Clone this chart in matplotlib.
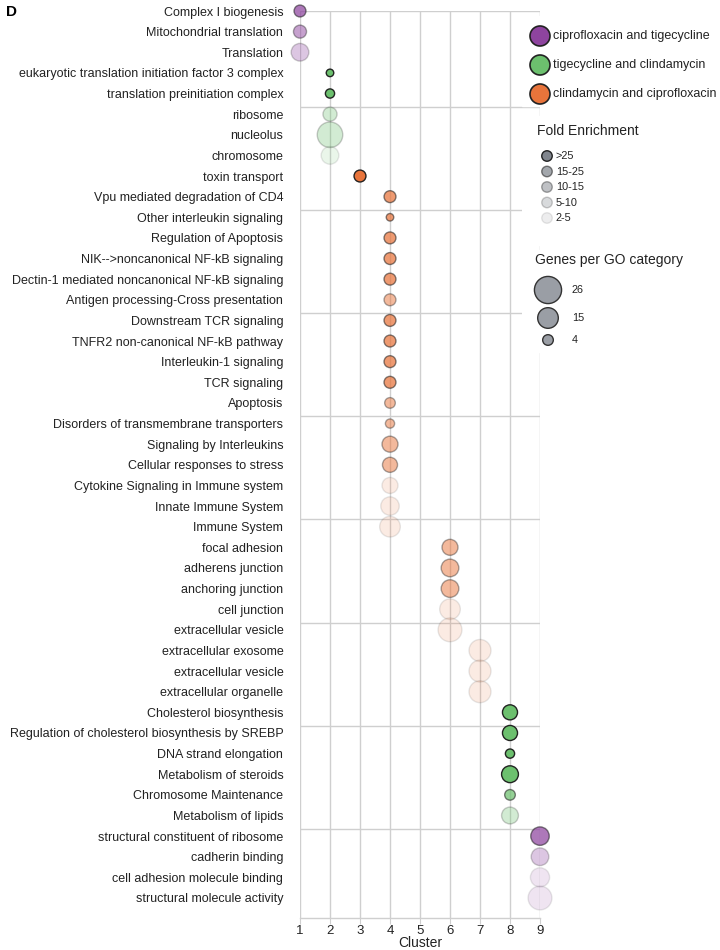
# -*- coding: utf-8 -*-
# go_cluster_bubbles.py

'''
Description:
    Panel D: enriched GO / pathway terms per cluster. Colour = drug pair,
    opacity = fold enrichment bin, bubble area = genes per GO category.
'''


#%% Import packages

import numpy as np
import matplotlib.pyplot as plt
from matplotlib.patches import Rectangle
from matplotlib.colors import to_rgba


#%% Data

terms = [
    'Complex I biogenesis', 'Mitochondrial translation', 'Translation',
    'eukaryotic translation initiation factor 3 complex',
    'translation preinitiation complex', 'ribosome', 'nucleolus',
    'chromosome', 'toxin transport', 'Vpu mediated degradation of CD4',
    'Other interleukin signaling', 'Regulation of Apoptosis',
    'NIK-->noncanonical NF-kB signaling',
    'Dectin-1 mediated noncanonical NF-kB signaling',
    'Antigen processing-Cross presentation', 'Downstream TCR signaling',
    'TNFR2 non-canonical NF-kB pathway', 'Interleukin-1 signaling',
    'TCR signaling', 'Apoptosis', 'Disorders of transmembrane transporters',
    'Signaling by Interleukins', 'Cellular responses to stress',
    'Cytokine Signaling in Immune system', 'Innate Immune System',
    'Immune System', 'focal adhesion', 'adherens junction',
    'anchoring junction', 'cell junction', 'extracellular vesicle',
    'extracellular exosome', 'extracellular vesicle',
    'extracellular organelle', 'Cholesterol biosynthesis',
    'Regulation of cholesterol biosynthesis by SREBP',
    'DNA strand elongation', 'Metabolism of steroids',
    'Chromosome Maintenance', 'Metabolism of lipids',
    'structural constituent of ribosome', 'cadherin binding',
    'cell adhesion molecule binding', 'structural molecule activity',
]

clusters = [1, 1, 1, 2, 2, 2, 2, 2, 3, 4,
            4, 4, 4, 4, 4, 4, 4, 4, 4, 4,
            4, 4, 4, 4, 4, 4, 6, 6, 6, 6,
            6, 7, 7, 7, 8, 8, 8, 8, 8, 8,
            9, 9, 9, 9]

# 0 = ciprofloxacin/tigecycline, 1 = tigecycline/clindamycin,
# 2 = clindamycin/ciprofloxacin
pair_idx = [0, 0, 0, 1, 1, 1, 1, 1, 2, 2,
            2, 2, 2, 2, 2, 2, 2, 2, 2, 2,
            2, 2, 2, 2, 2, 2, 2, 2, 2, 2,
            2, 2, 2, 2, 1, 1, 1, 1, 1, 1,
            0, 0, 0, 0]

# index into fold_labels
fold_idx = [1, 2, 3, 0, 0, 3, 3, 4, 0, 1,
            1, 1, 1, 1, 2, 1, 1, 1, 1, 2,
            2, 2, 2, 4, 4, 4, 2, 2, 2, 4,
            4, 4, 4, 4, 0, 0, 0, 0, 1, 3,
            1, 3, 4, 4]

genes = [5, 6, 11, 2, 3, 7, 23, 11, 5, 5,
         2, 5, 5, 5, 5, 5, 5, 5, 5, 4,
         3, 9, 8, 9, 12, 15, 9, 11, 11, 15,
         20, 17, 17, 17, 8, 8, 3, 10, 4, 10,
         12, 11, 13, 20]

pair_labels = ['ciprofloxacin and tigecycline', 'tigecycline and clindamycin',
               'clindamycin and ciprofloxacin']
pair_colors = ['#8e449f', '#6cc06e', '#e8743b']

fold_labels = ['>25', '15-25', '10-15', '5-10', '2-5']
fold_alpha = [1.0, 0.72, 0.5, 0.3, 0.14]

gene_legend = [26, 15, 4]


#%% Constants

W, H = 720, 950
SIZE_K = 14.7          # marker area (pt^2) per gene
GREY = '#cfcfcf'
FONT = ['Liberation Sans', 'DejaVu Sans']

plt.rcParams['font.family'] = FONT


def bubble_colors(colors, alphas):
    face = [to_rgba(c, a) for c, a in zip(colors, alphas)]
    edge = [(0.1, 0.1, 0.1, 0.95 if a >= 1 else a * 0.75) for a in alphas]
    return face, edge


#%% Main plot

fig = plt.figure(figsize=(W / 100, H / 100), dpi=100)
ax = fig.add_axes([300 / W, 1 - 918 / H, 240 / W, (918 - 11) / H])

n = len(terms)
y = np.arange(n)
alphas = [fold_alpha[i] for i in fold_idx]
face, edge = bubble_colors([pair_colors[p] for p in pair_idx], alphas)

ax.scatter(clusters, y, s=np.array(genes) * SIZE_K, c=face,
           edgecolors=edge, linewidths=1.0, zorder=3, clip_on=False)

ax.set_xlim(1, 9)
ax.set_ylim(43.97, 0)

# grid
for xc in range(1, 10):
    ax.axvline(xc, color=GREY, lw=1.0, zorder=1)
for yh in [0] + list(np.arange(4.65, n - 1, 5)):
    ax.hlines(yh, 1, 9, color=GREY, lw=1.0, zorder=1)

for side in ['top', 'right', 'left']:
    ax.spines[side].set_visible(False)
ax.spines['bottom'].set_color(GREY)
ax.spines['bottom'].set_linewidth(1.0)

ax.set_xticks(range(1, 10))
ax.tick_params(axis='x', length=4, color=GREY, labelsize=9.5, pad=1,
               labelcolor='#222222')
ax.set_xlabel('Cluster', fontsize=10, labelpad=-1, color='#222222')

ax.set_yticks(y)
ax.set_yticklabels(terms)
ax.tick_params(axis='y', length=0, labelsize=9.0, pad=12,
               labelcolor='#222222')

fig.text(6 / W, 1 - 12 / H, 'D', fontsize=11, fontweight='bold',
         va='center', ha='left')


#%% Legend (drawn in pixel coordinates on its own axes)

lax = fig.add_axes([522 / W, 1 - 360 / H, (W - 522) / W, 360 / H])
lax.set_xlim(522, W)
lax.set_ylim(360, 0)
lax.axis('off')

for y0, y1 in [(16, 106), (116, 245), (250, 352)]:
    lax.add_patch(Rectangle((522, y0), W - 522, y1 - y0, color='white',
                            zorder=0))

# drug pairs
pair_y = [36, 65, 94]
lax.scatter([540] * 3, pair_y, s=(20 * 0.72) ** 2, c=pair_colors,
            edgecolors='#222222', linewidths=1.2, zorder=2)
for yy, lab in zip(pair_y, pair_labels):
    lax.text(553, yy, lab, fontsize=9, va='center', ha='left',
             color='#222222')

# fold enrichment
lax.text(537, 131, 'Fold Enrichment', fontsize=10, va='center', ha='left',
         color='#222222')
fold_y = 156 + np.arange(len(fold_labels)) * 15.5
g_face, g_edge = bubble_colors(['#80858d'] * len(fold_labels), fold_alpha)
lax.scatter([547] * len(fold_labels), fold_y, s=(10.5 * 0.72) ** 2, c=g_face,
            edgecolors=g_edge, linewidths=1.0, zorder=2)
for yy, lab in zip(fold_y, fold_labels):
    lax.text(556, yy, lab, fontsize=7.8, va='center', ha='left',
             color='#222222')

# genes per GO category
lax.text(535, 260, 'Genes per GO category', fontsize=10, va='center',
         ha='left', color='#222222')
gene_y = [290, 318, 340]
lax.scatter([548] * 3, gene_y, s=np.array(gene_legend) * SIZE_K,
            c='#9a9ea5', edgecolors='#333333', linewidths=1.0, zorder=2)
for yy, g in zip(gene_y, gene_legend):
    lax.text(572, yy, str(g), fontsize=7.8, va='center', ha='left',
             color='#222222')

plt.savefig('out.png', dpi=100)
